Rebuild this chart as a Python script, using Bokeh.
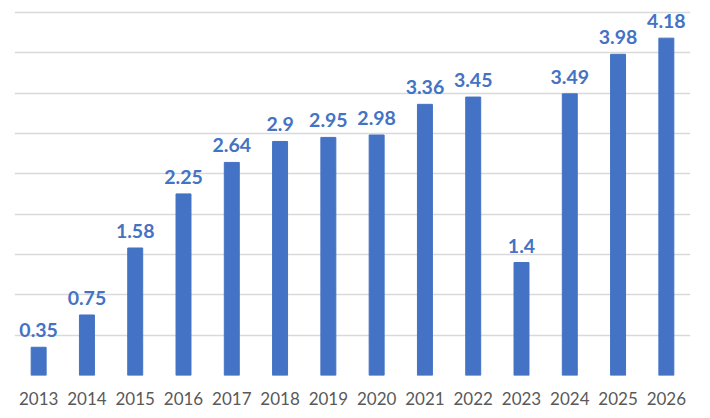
from bokeh.plotting import figure
from bokeh.models import ColumnDataSource, FixedTicker, Range1d, FactorRange
from bokeh.core.properties import value
from bokeh.embed import file_html
from bokeh.resources import INLINE

years = ["2013", "2014", "2015", "2016", "2017", "2018", "2019", "2020",
         "2021", "2022", "2023", "2024", "2025", "2026"]
values = [0.35, 0.75, 1.58, 2.25, 2.64, 2.9, 2.95, 2.98, 3.36, 3.45, 1.4, 3.49, 3.98, 4.18]
labels = ["0.35", "0.75", "1.58", "2.25", "2.64", "2.9", "2.95", "2.98",
          "3.36", "3.45", "1.4", "3.49", "3.98", "4.18"]
grid_ticks = [0, 0.5, 1, 1.5, 2, 2.5, 3, 3.5, 4, 4.5]

src = ColumnDataSource(dict(x=years, top=values, label=labels))

p = figure(width=702, height=410, x_range=FactorRange(*years, range_padding=0),
           y_range=Range1d(0, 4.535), output_backend="svg", toolbar_location=None,
           min_border_left=14, min_border_right=12, min_border_top=9, min_border_bottom=35)
p.x_range.range_padding = 0
p.outline_line_color = None
p.background_fill_color = "white"
p.border_fill_color = "white"

p.vbar(x="x", top="top", bottom=0, width=0.31, color="#4472C4", source=src)
p.text(x="x", y="top", text="label", source=src, text_align="center",
       text_baseline="bottom", y_offset=-10, text_color="#4472C4",
       text_font=value("Lato"), text_font_style="bold", text_font_size="19.5px")

p.yaxis.visible = False
p.ygrid.ticker = FixedTicker(ticks=grid_ticks)
p.ygrid.grid_line_color = "#d9d9d9"
p.ygrid.grid_line_width = 1.5
p.xgrid.grid_line_color = None

p.xaxis.axis_line_color = None
p.xaxis.major_tick_line_color = None
p.xaxis.minor_tick_line_color = None
p.xaxis.major_tick_out = 0
p.xaxis.major_tick_in = 0
p.xaxis.major_label_standoff = 16
p.xaxis.major_label_text_font = "Lato"
p.xaxis.major_label_text_font_size = "17px"
p.xaxis.major_label_text_color = "#595959"

open("out.html", "w").write(file_html(p, INLINE))
